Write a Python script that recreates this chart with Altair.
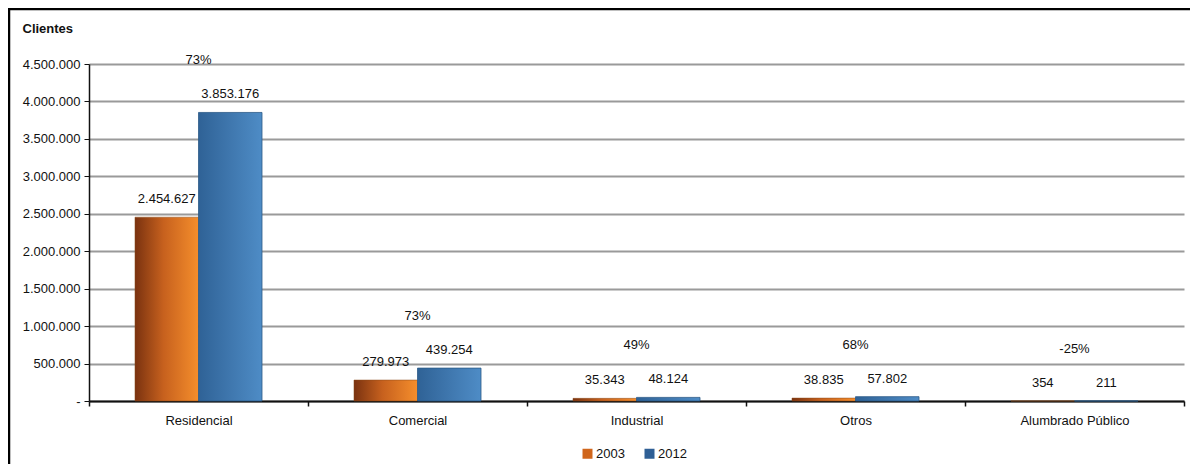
import altair as alt
import pandas as pd

categories = ["Residencial", "Comercial", "Industrial", "Otros", "Alumbrado Público"]
years = ["2003", "2012"]
values_2003 = [2454627, 279973, 35343, 38835, 354]
values_2012 = [3853176, 439254, 48124, 57802, 211]
pct_change = ["73%", "73%", "49%", "68%", "-25%"]
y_ticks = [0, 500000, 1000000, 1500000, 2000000, 2500000, 3000000, 3500000, 4000000, 4500000]


def fmt(v):
    return f"{v:,}".replace(",", ".")


rows = []
for c, a, b in zip(categories, values_2003, values_2012):
    rows.append({"cat": c, "year": "2003", "value": a, "label": fmt(a)})
    rows.append({"cat": c, "year": "2012", "value": b, "label": fmt(b)})
df = pd.DataFrame(rows)
df_pct = pd.DataFrame({
    "cat": categories,
    "pct": pct_change,
    "value": [max(a, b) for a, b in zip(values_2003, values_2012)],
})

W, H = 1095, 337
FONT = "Liberation Sans"

x_enc = alt.X(
    "cat:N", sort=categories, title=None,
    scale=alt.Scale(paddingInner=0, paddingOuter=0),
    axis=alt.Axis(
        labelAngle=0, tickBand="extent", domainColor="#111", domainWidth=2,
        tickColor="#111", tickWidth=1.5, tickSize=5, labelPadding=8,
        labelFontSize=13, labelColor="#111", labelFont=FONT, grid=False,
    ),
)
y_enc = alt.Y(
    "value:Q", title="Clientes",
    scale=alt.Scale(domain=[0, 4500000], nice=False),
    axis=alt.Axis(
        values=y_ticks, labelOverlap=False,
        labelExpr="datum.value == 0 ? '-' : replace(format(datum.value, ',.0f'), regexp(',', 'g'), '.')",
        domainColor="#111", domainWidth=1.5, tickColor="#111", tickSize=5,
        labelPadding=4, labelFontSize=13, labelColor="#111", labelFont=FONT,
        gridColor="#9a9a9a", gridWidth=2,
        titleAngle=0, titleX=-67, titleY=-36, titleAlign="left", titleBaseline="middle",
        titleFontSize=13, titleFontWeight="bold", titleFont=FONT, titleColor="#111",
    ),
)
xoff = alt.XOffset("year:N", sort=years, scale=alt.Scale(paddingInner=0, paddingOuter=0.724))

grad_2003 = alt.Gradient(
    gradient="linear", x1=0, x2=1, y1=0, y2=0,
    stops=[alt.GradientStop(color="#7a3210", offset=0),
           alt.GradientStop(color="#c7611e", offset=0.45),
           alt.GradientStop(color="#f58e2c", offset=1)],
)
grad_2012 = alt.Gradient(
    gradient="linear", x1=0, x2=1, y1=0, y2=0,
    stops=[alt.GradientStop(color="#2f6296", offset=0),
           alt.GradientStop(color="#3f77ae", offset=0.5),
           alt.GradientStop(color="#4e8cc6", offset=1)],
)

base = alt.Chart(df)

bars_2003 = base.transform_filter(alt.datum.year == "2003").mark_bar(
    stroke="#8a4a1a", strokeWidth=0.5
).encode(x=x_enc, xOffset=xoff, y=y_enc, fill=alt.value(grad_2003))

bars_2012 = base.transform_filter(alt.datum.year == "2012").mark_bar(
    stroke="#2c5a88", strokeWidth=0.8
).encode(x=x_enc, xOffset=xoff, y=y_enc, fill=alt.value(grad_2012))

legend_layer = base.mark_bar().encode(
    x=x_enc, xOffset=xoff,
    y=alt.value(H), y2=alt.value(H),
    color=alt.Color(
        "year:N", sort=years,
        scale=alt.Scale(domain=years, range=["#d0661c", "#2f5f95"]),
        legend=alt.Legend(
            title=None, orient="none", direction="horizontal",
            legendX=492, legendY=383, symbolType="square", symbolSize=100,
            symbolStrokeWidth=0, labelFontSize=13, labelFont=FONT, labelColor="#111",
            labelOffset=2, columnPadding=18,
        ),
    ),
)

value_labels = base.mark_text(
    dy=-18, fontSize=13, font=FONT, color="#111", baseline="middle"
).encode(x=x_enc, xOffset=xoff, y=y_enc, text="label:N")

pct_labels = alt.Chart(df_pct).mark_text(
    dy=-52, fontSize=13, font=FONT, color="#111", baseline="middle"
).encode(x=x_enc, y=y_enc, text="pct:N")

frame_left = alt.Chart(pd.DataFrame({"a": [0]})).mark_rule(
    color="#000", strokeWidth=2.5
).encode(x=alt.value(-80), y=alt.value(-56), y2=alt.value(420))
frame_top = alt.Chart(pd.DataFrame({"a": [0]})).mark_rule(
    color="#000", strokeWidth=2.5
).encode(x=alt.value(-81), x2=alt.value(W + 10), y=alt.value(-55))

chart = alt.layer(
    bars_2003, bars_2012, legend_layer, value_labels, pct_labels, frame_left, frame_top
).properties(
    width=W, height=H,
    autosize=alt.AutoSizeParams(type="none"),
    padding={"left": 81, "top": 56, "right": 6, "bottom": 63},
).configure(background="white").configure_view(stroke=None)

chart.save("out.html", embed_options={"renderer": "svg", "actions": False})
